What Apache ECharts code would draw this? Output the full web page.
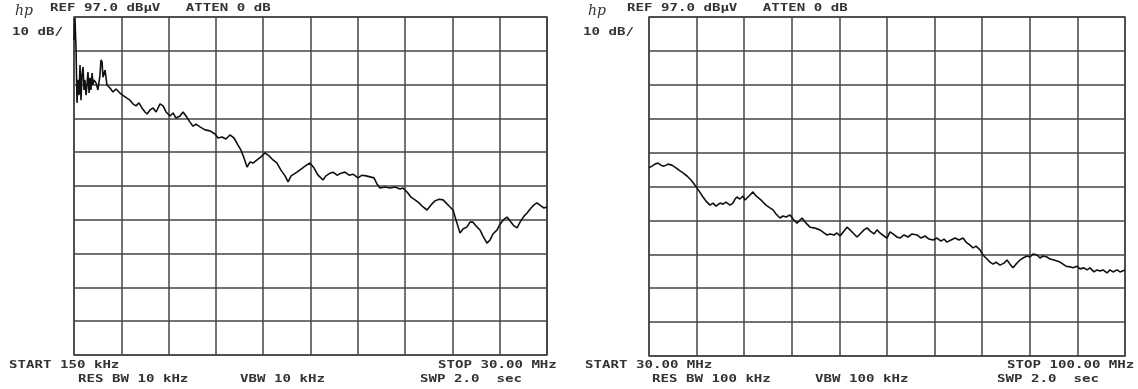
<!DOCTYPE html>
<html>
<head>
<meta charset="utf-8">
<script src="https://cdn.jsdelivr.net/npm/echarts@6/dist/echarts.min.js"></script>
<style>
html,body{margin:0;padding:0;background:#fff;}
#chart{width:1138px;height:389px;}
</style>
</head>
<body>
<div id="chart"></div>
<script>
// ---- Left sweep: 150 kHz .. 30 MHz (frequency in MHz, level in dBµV)
const leftFreq = [0.15,0.21,0.28,0.34,0.40,0.47,0.53,0.59,0.65,0.72,0.78,0.84,0.91,0.97,1.03,1.10,1.16,1.22,1.29,1.35,1.41,1.54,1.66,1.79,1.85,1.92,1.98,2.11,2.23,2.42,2.61,2.80,3.05,3.31,3.49,3.68,3.87,4.06,4.25,4.44,4.63,4.76,4.95,5.14,5.33,5.58,5.77,5.96,6.21,6.40,6.59,6.84,7.03,7.22,7.47,7.66,7.85,8.10,8.42,8.73,9.05,9.24,9.49,9.74,9.99,10.25,10.50,10.69,10.88,11.07,11.26,11.45,11.70,11.95,12.20,12.46,12.71,12.96,13.21,13.47,13.66,13.85,14.03,14.22,14.48,14.73,15.04,15.30,15.55,15.86,16.05,16.31,16.50,16.75,17.00,17.25,17.51,17.76,18.07,18.33,18.58,18.83,19.08,19.27,19.46,19.78,20.09,20.41,20.72,20.91,21.17,21.42,21.67,21.92,22.18,22.43,22.68,22.93,23.19,23.44,23.69,23.88,24.07,24.26,24.51,24.70,24.95,25.14,25.33,25.52,25.77,25.96,26.21,26.40,26.59,26.85,27.04,27.29,27.48,27.73,27.92,28.11,28.30,28.55,28.74,28.99,29.18,29.37,29.62,29.81,30.00];
const leftLevel = [90.2,96.7,87.2,71.6,78.4,73.9,82.8,72.4,79.8,82.2,75.4,78.4,73.9,76.9,80.7,74.5,79.0,75.4,80.4,76.9,78.4,77.5,75.4,79.8,84.3,83.7,79.2,81.3,76.9,76.0,74.8,75.7,74.5,73.6,73.0,72.4,71.3,70.7,71.6,70.1,68.9,68.3,69.5,70.1,68.9,71.3,70.7,68.9,67.7,68.6,67.1,67.7,68.9,67.7,65.9,64.7,65.3,64.5,63.6,63.3,62.4,61.2,61.5,60.9,62.1,61.2,59.1,57.6,55.3,52.6,54.1,53.8,54.7,55.6,56.8,55.9,54.7,53.8,51.7,50.0,48.2,50.0,50.5,51.1,52.0,52.9,53.8,52.3,50.2,48.8,50.0,50.8,51.1,50.2,50.8,51.1,50.2,50.5,49.4,50.2,50.0,49.7,49.4,47.6,46.4,46.7,46.4,46.7,46.1,46.4,45.2,43.7,42.9,42.0,40.8,39.9,41.4,42.6,43.1,42.9,41.7,40.8,39.9,36.9,33.1,34.3,34.9,36.3,36.3,35.2,34.0,32.2,30.1,31.0,32.8,34.0,35.7,37.2,37.8,36.3,35.2,34.6,36.3,38.1,39.0,40.5,41.4,42.0,41.1,40.5,40.8];

// ---- Right sweep: 30 MHz .. 100 MHz
const rightFreq = [30.00,30.44,30.88,31.32,31.76,32.21,32.79,33.38,33.97,34.56,35.00,35.59,36.18,36.76,37.35,37.94,38.38,38.97,39.41,39.85,40.44,40.88,41.32,41.91,42.35,42.65,42.94,43.38,43.82,44.12,44.41,44.85,45.29,45.74,46.32,46.76,47.21,47.79,48.24,48.68,49.26,49.71,50.15,50.74,51.18,51.76,52.21,52.50,53.09,53.68,54.26,54.71,55.15,55.74,56.18,56.62,57.21,57.65,58.09,58.68,59.12,59.56,60.15,60.59,61.03,61.62,62.06,62.50,63.09,63.53,63.97,64.56,65.00,65.44,65.88,66.47,66.91,67.50,68.09,68.68,69.41,70.00,70.59,71.18,71.76,72.35,72.94,73.38,73.82,74.41,75.00,75.59,76.18,76.62,77.21,77.65,78.09,78.68,79.12,79.56,80.15,80.59,81.03,81.62,82.21,82.65,83.09,83.53,83.97,84.56,85.00,85.59,86.03,86.47,87.06,87.50,87.94,88.53,88.97,89.56,90.00,90.44,90.88,91.32,91.91,92.35,92.94,93.38,93.97,94.41,94.85,95.44,95.88,96.32,96.76,97.35,97.79,98.24,98.82,99.26,100.00];
const rightLevel = [52.5,53.0,53.6,53.9,53.3,53.0,53.6,53.3,52.5,51.6,51.0,50.1,48.9,47.4,45.7,43.9,42.7,41.5,42.1,41.2,42.1,41.8,42.4,41.5,42.1,43.3,43.9,43.3,44.2,43.0,43.0,44.5,45.4,44.2,43.3,42.4,41.5,40.7,40.1,38.9,37.7,38.3,38.0,38.6,37.4,36.2,37.1,37.7,36.2,35.0,34.8,34.5,34.2,33.3,32.7,33.0,32.7,33.3,32.4,33.9,35.0,34.2,33.0,32.1,33.0,34.2,34.8,33.9,33.0,34.2,33.3,32.4,31.8,33.6,33.0,32.1,31.8,32.7,32.1,33.0,32.7,31.8,32.4,31.5,31.2,31.8,30.9,31.5,30.6,31.2,31.8,31.2,31.8,30.6,29.7,28.9,29.4,28.3,26.8,25.9,24.7,24.1,24.7,23.8,24.4,25.3,24.1,23.0,24.1,25.3,25.9,26.5,26.2,27.1,26.8,25.9,26.5,26.2,25.6,25.3,25.0,24.7,24.1,23.5,23.3,23.0,23.5,22.7,23.0,22.4,23.0,21.8,22.4,22.1,22.4,21.5,22.4,21.8,22.4,21.8,22.4];

// ---- Axis scales (REF level and 10 dB/div, 10 divisions)
const refLevel = 97;
const dbPerDiv = 10;
const divisions = 10;
const leftSpan = [0.15, 30.00];
const rightSpan = [30.00, 100.00];

// ---- Annotation texts
const leftTexts = {
  ref: 'REF 97.0 dBµV   ATTEN 0 dB', scale: '10 dB/',
  start: 'START 150 kHz', rbw: 'RES BW 10 kHz', vbw: 'VBW 10 kHz',
  stop: 'STOP 30.00 MHz', swp: 'SWP 2.0  sec'
};
const rightTexts = {
  ref: 'REF 97.0 dBµV   ATTEN 0 dB', scale: '10 dB/',
  start: 'START 30.00 MHz', rbw: 'RES BW 100 kHz', vbw: 'VBW 100 kHz',
  stop: 'STOP 100.00 MHz', swp: 'SWP 2.0  sec'
};

const zip = (a, b) => a.map((v, i) => [v, b[i]]);
const gridColor = '#444444';
const ink = '#333333';

function xAxis(idx, span) {
  return {
    type: 'value', gridIndex: idx, min: span[0], max: span[1],
    interval: (span[1] - span[0]) / divisions,
    axisLine: {show: false}, axisTick: {show: false}, axisLabel: {show: false},
    splitLine: {show: true, lineStyle: {color: gridColor, width: 1.5}}
  };
}
function yAxis(idx) {
  return {
    type: 'value', gridIndex: idx, min: refLevel - dbPerDiv * divisions, max: refLevel,
    interval: dbPerDiv,
    axisLine: {show: false}, axisTick: {show: false}, axisLabel: {show: false},
    splitLine: {show: true, lineStyle: {color: gridColor, width: 1.5}}
  };
}

const SX = 1.41;
function txt(x, y, s) {
  return {type: 'text', x: x, y: y, scaleX: SX, silent: true,
    style: {text: s, x: 0, y: 0, font: 'bold 10px "DejaVu Sans Mono"', fill: ink,
      verticalAlign: 'middle', textVerticalAlign: 'middle'}};
}
function hp(x, y) {
  return {type: 'text', x: x, y: y, silent: true,
    style: {text: 'hp', x: 0, y: 0, font: 'italic 14px "DejaVu Serif"', fill: ink,
      verticalAlign: 'middle', textVerticalAlign: 'middle'}};
}
function panelTexts(o, T) {
  return [
    hp(o.hpX, 11),
    txt(o.refX, 8.5, T.ref),
    txt(o.scaleX, 32, T.scale),
    txt(o.startX, 365, T.start),
    txt(o.rbwX, 379.5, T.rbw),
    txt(o.vbwX, 379.5, T.vbw),
    txt(o.stopX, 365, T.stop),
    txt(o.swpX, 379.5, T.swp)
  ];
}

const chart = echarts.init(document.getElementById('chart'), null, {renderer: 'canvas'});
chart.setOption({
  backgroundColor: '#ffffff',
  animation: false,
  grid: [
    {left: 74, top: 17, width: 473, height: 338, show: true, borderColor: gridColor, borderWidth: 1.5, backgroundColor: 'transparent'},
    {left: 649, top: 17, width: 476, height: 339, show: true, borderColor: gridColor, borderWidth: 1.5, backgroundColor: 'transparent'}
  ],
  xAxis: [xAxis(0, leftSpan), xAxis(1, rightSpan)],
  yAxis: [yAxis(0), yAxis(1)],
  series: [
    {type: 'line', xAxisIndex: 0, yAxisIndex: 0, data: zip(leftFreq, leftLevel),
      showSymbol: false, smooth: false, lineStyle: {color: '#111111', width: 1.6}},
    {type: 'line', xAxisIndex: 1, yAxisIndex: 1, data: zip(rightFreq, rightLevel),
      showSymbol: false, smooth: false, lineStyle: {color: '#111111', width: 1.6}}
  ],
  graphic: [
    ...panelTexts({hpX: 15, refX: 50, scaleX: 12, startX: 9, rbwX: 78, vbwX: 240, stopX: 438, swpX: 420}, leftTexts),
    ...panelTexts({hpX: 588, refX: 627, scaleX: 583, startX: 585, rbwX: 652, vbwX: 815, stopX: 1007, swpX: 997}, rightTexts)
  ]
});
</script>
</body>
</html>
